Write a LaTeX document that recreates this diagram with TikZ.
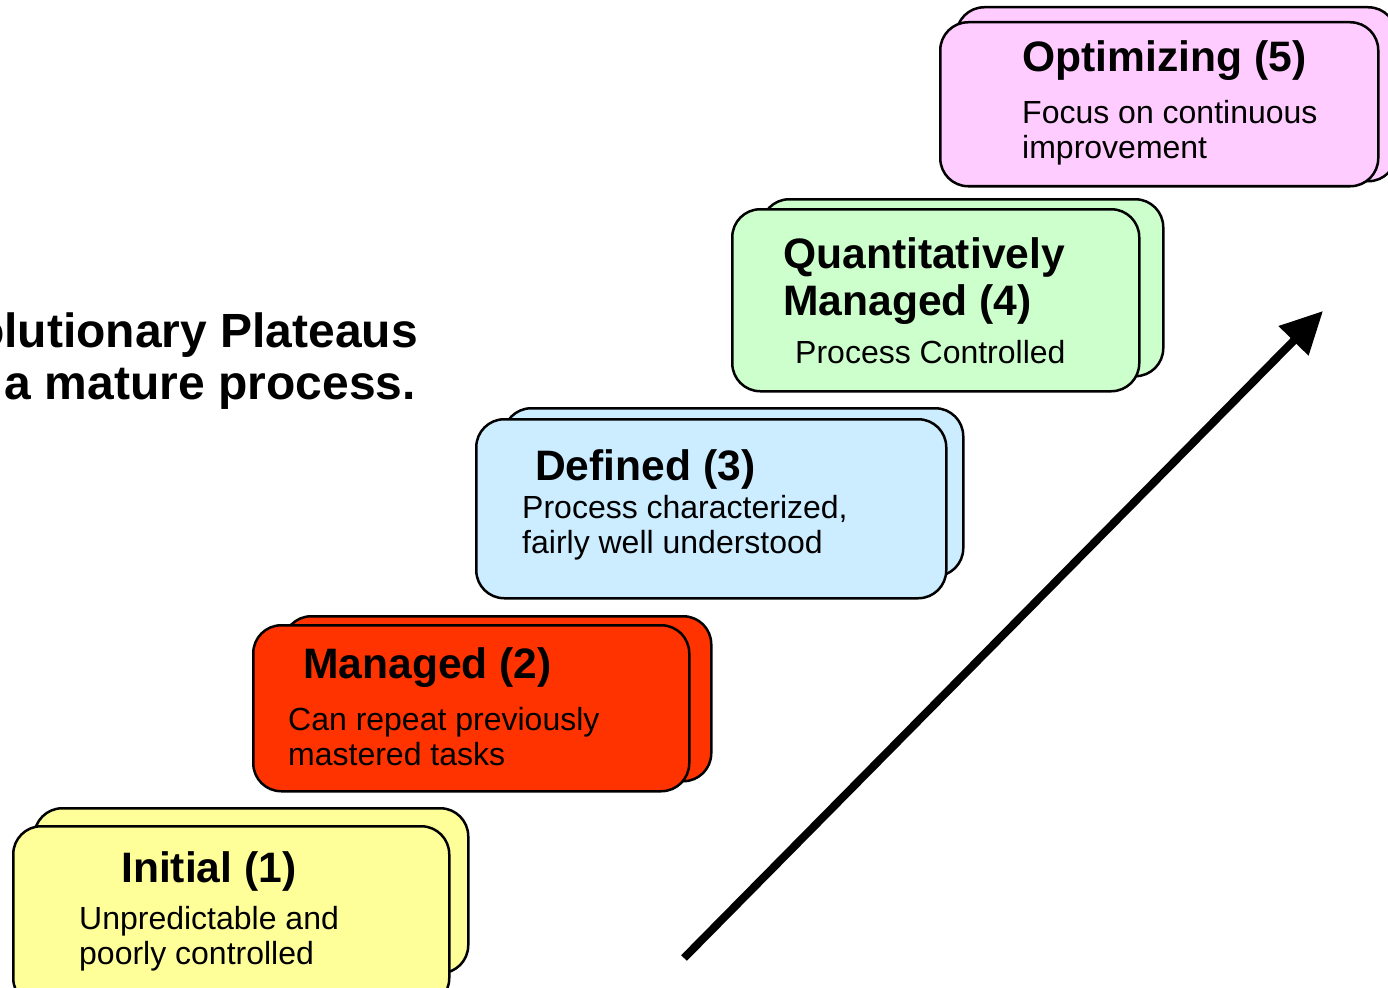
\documentclass[tikz,border=0pt]{standalone}
\usepackage{fontspec}
\setmainfont{Liberation Sans}
\usepackage{tikz}
\usepackage{xcolor}
\usetikzlibrary{positioning,arrows.meta}

\definecolor{lvl-yellow}{HTML}{FFFF99}
\definecolor{lvl-red}{HTML}{FF3300}
\definecolor{lvl-blue}{HTML}{CCECFF}
\definecolor{lvl-green}{HTML}{CCFFCC}
\definecolor{lvl-pink}{HTML}{FFCCFF}

\begin{document}
\begin{tikzpicture}
[
x=1pt, y=-1pt,
box-a/.style={rectangle, draw, line width=2.5pt, rounded corners=28pt, anchor=north west, inner sep=0pt},
title-a/.style={anchor=base west, inner sep=0pt, font=\fontsize{42.6}{47}\selectfont\bfseries},
text-a/.style={anchor=north west, inner sep=0pt, align=left, font=\fontsize{32}{35}\selectfont},
head-a/.style={anchor=base east, inner sep=0pt, font=\fontsize{48}{52}\selectfont\bfseries}
]
\path[fill=white, use as bounding box] (0,0) rectangle (1388,987);

% left heading
\node (head-1) [head-a] at (418,347) {olutionary Plateaus};
\node (head-2) [head-a] at (416,399) {a mature process.};

% level 1
\node (lvl-1-back) [box-a, fill=lvl-yellow, minimum width=434pt, minimum height=165pt] at (33,807) {};
\node (lvl-1)      [box-a, fill=lvl-yellow, minimum width=436pt, minimum height=180pt] at (12,825) {};
\node (title-1)    [title-a] at (121,882) {Initial (1)};
\node (desc-1)     [text-a]  at (79,906)  {Unpredictable and\\poorly controlled};

% level 2
\node (lvl-2-back) [box-a, fill=lvl-red, minimum width=428pt, minimum height=165pt] at (282,615) {};
\node (lvl-2)      [box-a, fill=lvl-red, minimum width=436pt, minimum height=166pt] at (252,624) {};
\node (title-2)    [title-a] at (303,678) {Managed (2)};
\node (desc-2)     [text-a]  at (288,707) {Can repeat previously\\mastered tasks};

% level 3
\node (lvl-3-back) [box-a, fill=lvl-blue, minimum width=460pt, minimum height=168pt] at (502,407) {};
\node (lvl-3)      [box-a, fill=lvl-blue, minimum width=470pt, minimum height=179pt] at (475,418) {};
\node (title-3)    [title-a] at (535,480) {Defined (3)};
\node (desc-3)     [text-a]  at (522,495) {Process characterized,\\fairly well understood};

% level 4
\node (lvl-4-back) [box-a, fill=lvl-green, minimum width=402pt, minimum height=177pt] at (760,198) {};
\node (lvl-4)      [box-a, fill=lvl-green, minimum width=407pt, minimum height=182pt] at (731,208) {};
\node (title-4)    [title-a] at (783,268) {Quantitatively};
\node (title-4-b)  [title-a] at (783,315) {Managed (4)};
\node (desc-4)     [text-a, anchor=base west] at (795,363) {Process Controlled};

% level 5
\node (lvl-5-back) [box-a, fill=lvl-pink, minimum width=440pt, minimum height=174pt] at (955,6) {};
\node (lvl-5)      [box-a, fill=lvl-pink, minimum width=438pt, minimum height=164pt] at (939,21) {};
\node (title-5)    [title-a] at (1022,72) {Optimizing (5)};
\node (desc-5)     [text-a]  at (1022,100) {Focus on continuous\\improvement};

% maturity arrow
\coordinate (arrow-start) at (684,958);
\coordinate (arrow-end)   at (1323,311);
\draw[line width=8pt, -{Triangle[length=42pt, width=40pt]}] (arrow-start) -- (arrow-end);
\end{tikzpicture}
\end{document}
